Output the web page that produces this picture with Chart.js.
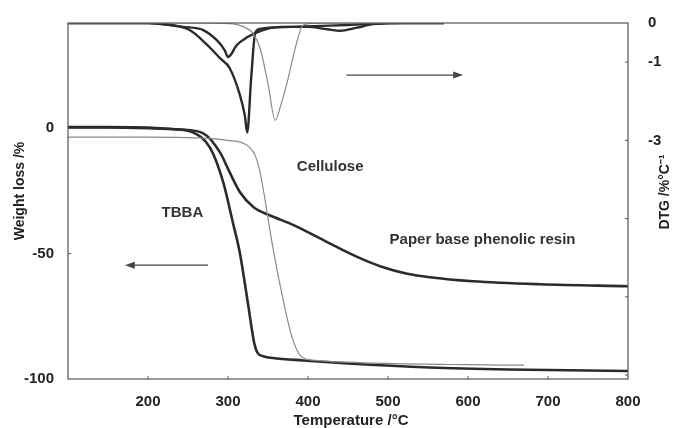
<!DOCTYPE html>
<html>
<head>
<meta charset="utf-8">
<script src="https://cdn.jsdelivr.net/npm/chart.js@4.4.0/dist/chart.umd.min.js"></script>
<style>
  html, body { margin: 0; padding: 0; background: #fff; }
  #wrap { width: 681px; height: 428px; position: relative; }
</style>
</head>
<body>
<div id="wrap"><canvas id="tg_chart" width="681" height="428"></canvas></div>
<script>
// TG curves (weight loss %, left axis)
var tbbaTgT = [100, 150, 200, 230, 256, 278, 294, 306, 315, 325, 333, 337, 345, 356, 394, 450, 552, 650, 800];
var tbbaTg  = [0.5, 0.5, 0.3, -0.3, -1.6, -8, -21.5, -37.5, -50, -70, -86, -89.6, -91, -91.6, -92.6, -93.8, -95.4, -96.2, -96.8];

var celluTgT = [100, 200, 260, 299, 324, 334, 340, 346, 352, 358, 369, 380, 392, 410, 500, 600, 670];
var celluTg  = [-3.5, -3.5, -3.8, -4.8, -6.8, -10.8, -17.5, -27.9, -39.8, -51, -68.5, -83.3, -91.2, -92.6, -93.8, -94.3, -94.5];

var phenTgT = [100, 150, 200, 240, 269, 290, 302, 315, 332, 352, 382, 424, 440, 465, 490, 524, 552, 606, 690, 800];
var phenTg  = [0.3, 0.3, 0, -0.5, -2, -9.6, -17.5, -25.5, -31.5, -34.7, -38.6, -45.4, -48, -51.8, -55, -58, -59.4, -61, -62.2, -63];

// DTG curves (%/°C, right axis)
var tbbaDtgT = [100, 200, 215, 252, 274, 290, 302, 315, 321, 324, 329, 334, 340, 380, 450, 520, 570];
var tbbaDtg  = [0, 0, -0.02, -0.18, -0.56, -0.9, -1.15, -1.85, -2.36, -2.8, -1.4, -0.26, -0.15, -0.1, -0.05, 0, 0];

var celluDtgT = [100, 250, 306, 320, 331, 340, 350, 359, 366, 374, 386, 394, 420, 570];
var celluDtg  = [0, 0, -0.02, -0.1, -0.26, -0.64, -1.55, -2.49, -2.1, -1.51, -0.49, -0.05, 0, 0];

var phenDtgT = [100, 200, 244, 269, 286, 296, 300, 305, 309, 315, 334, 365, 399, 424, 440, 461, 481, 500, 570];
var phenDtg  = [0, 0, -0.1, -0.18, -0.44, -0.7, -0.87, -0.77, -0.62, -0.49, -0.26, -0.1, -0.1, -0.16, -0.2, -0.12, -0.03, 0, 0];

// axis ticks
var xTicks = [100, 200, 300, 400, 500, 600, 700, 800];
var tgTicks = [-100, -50, 0];
var dtgTicks = [0, -1, -3, -5, -7, -9];
var dtgLabels = ['0', '-1', '-3', '', '', ''];

function pts(t, v) {
    var out = [];
    for (var i = 0; i < t.length; i++) {
        out.push({ x: t[i], y: v[i] });
    }
    return out;
}

var thick = '#2b2b2b';
var thin = '#8a8a8a';
var frameCol = '#555';

// frame, small inner tick marks, axis titles, labels and arrows
var decor = {
    id: 'decor',
    afterDraw: function (chart) {
        var ctx = chart.ctx;
        var a = chart.chartArea;
        var sx = chart.scales.x, sy = chart.scales.y, sy2 = chart.scales.y2;
        ctx.save();
        ctx.strokeStyle = frameCol;
        ctx.lineWidth = 1.2;
        ctx.strokeRect(a.left, a.top, a.right - a.left, a.bottom - a.top);

        ctx.lineWidth = 1;
        for (var i = 1; i < xTicks.length - 1; i++) {
            var px = sx.getPixelForValue(xTicks[i]);
            ctx.beginPath(); ctx.moveTo(px, a.bottom); ctx.lineTo(px, a.bottom - 3); ctx.stroke();
        }
        for (var j = 1; j < dtgTicks.length; j++) {
            var py = sy2.getPixelForValue(dtgTicks[j]);
            ctx.beginPath(); ctx.moveTo(a.right, py); ctx.lineTo(a.right - 3, py); ctx.stroke();
        }
        var p50 = sy.getPixelForValue(-50);
        ctx.beginPath(); ctx.moveTo(a.left, p50); ctx.lineTo(a.left + 3, p50); ctx.stroke();

        // axis titles
        ctx.fillStyle = '#222';
        ctx.textAlign = 'center';
        ctx.textBaseline = 'middle';
        ctx.font = 'bold 15px "Liberation Sans", Arial, sans-serif';
        ctx.fillText('Temperature /°C', (a.left + a.right) / 2 + 3, 421);

        ctx.font = 'bold 14px "Liberation Sans", Arial, sans-serif';
        ctx.save();
        ctx.translate(20, 191);
        ctx.rotate(-Math.PI / 2);
        ctx.fillText('Weight loss /%', 0, 0);
        ctx.restore();

        ctx.save();
        ctx.translate(665, 192);
        ctx.rotate(-Math.PI / 2);
        ctx.fillText('DTG /%°C⁻¹', 0, 0);
        ctx.restore();

        // curve labels
        ctx.textAlign = 'left';
        ctx.font = 'bold 15px "Liberation Sans", Arial, sans-serif';
        ctx.fillStyle = '#333';
        ctx.fillText('Cellulose', sx.getPixelForValue(386), sy.getPixelForValue(-15.5));
        ctx.fillText('TBBA', sx.getPixelForValue(217), sy.getPixelForValue(-33.9));
        ctx.fillText('Paper base phenolic resin', sx.getPixelForValue(502), sy.getPixelForValue(-44.6));

        // arrows
        function arrow(x1, y1, x2, y2) {
            var dir = x2 > x1 ? 1 : -1;
            ctx.strokeStyle = '#444';
            ctx.fillStyle = '#444';
            ctx.lineWidth = 1.3;
            ctx.beginPath(); ctx.moveTo(x1, y1); ctx.lineTo(x2 - dir * 6, y2); ctx.stroke();
            ctx.beginPath();
            ctx.moveTo(x2, y2);
            ctx.lineTo(x2 - dir * 10, y2 - 3.5);
            ctx.lineTo(x2 - dir * 10, y2 + 3.5);
            ctx.closePath();
            ctx.fill();
        }
        arrow(sx.getPixelForValue(448), sy2.getPixelForValue(-1.33), sx.getPixelForValue(594), sy2.getPixelForValue(-1.33));
        arrow(sx.getPixelForValue(275), sy.getPixelForValue(-54.6), sx.getPixelForValue(171), sy.getPixelForValue(-54.6));
        ctx.restore();
    }
};

var tickFont = { family: '"Liberation Sans", Arial, sans-serif', size: 15, weight: 'bold' };

function lineSet(label, data, axis, color, width) {
    return {
        label: label,
        data: data,
        yAxisID: axis,
        borderColor: color,
        backgroundColor: 'rgba(0,0,0,0)',
        borderWidth: width,
        pointRadius: 0,
        cubicInterpolationMode: 'monotone',
        fill: false
    };
}

var ctx = document.getElementById('tg_chart').getContext('2d');
var chart = new Chart(ctx, {
    type: 'line',
    data: {
        datasets: [
            lineSet('Cellulose TG', pts(celluTgT, celluTg), 'y', thin, 1.2),
            lineSet('Cellulose DTG', pts(celluDtgT, celluDtg), 'y2', thin, 1.2),
            lineSet('TBBA TG', pts(tbbaTgT, tbbaTg), 'y', thick, 2.6),
            lineSet('Phenolic TG', pts(phenTgT, phenTg), 'y', thick, 2.6),
            lineSet('TBBA DTG', pts(tbbaDtgT, tbbaDtg), 'y2', thick, 2.4),
            lineSet('Phenolic DTG', pts(phenDtgT, phenDtg), 'y2', thick, 2.4)
        ]
    },
    options: {
        responsive: false,
        animation: false,
        layout: { padding: { top: 23, left: 0, right: 0, bottom: 0 } },
        plugins: { legend: { display: false }, tooltip: { enabled: false } },
        scales: {
            x: {
                type: 'linear',
                min: 100, max: 800,
                grid: { display: false },
                border: { display: false },
                afterBuildTicks: function (s) { s.ticks = xTicks.map(function (v) { return { value: v }; }); },
                afterFit: function (s) { s.height = 49; },
                ticks: {
                    font: tickFont, color: '#222', padding: 6, maxRotation: 0,
                    callback: function (v) { return v === 100 ? '' : String(v); }
                }
            },
            y: {
                position: 'left',
                min: -100, max: 42,
                grid: { display: false },
                border: { display: false },
                afterBuildTicks: function (s) { s.ticks = tgTicks.map(function (v) { return { value: v }; }); },
                afterFit: function (s) { s.width = 68; },
                ticks: { font: tickFont, color: '#222', padding: 6 }
            },
            y2: {
                position: 'right',
                min: -9.1, max: 0,
                grid: { display: false },
                border: { display: false },
                afterBuildTicks: function (s) { s.ticks = dtgTicks.map(function (v) { return { value: v }; }); },
                afterFit: function (s) { s.width = 53; },
                ticks: {
                    font: tickFont, color: '#222', padding: 12,
                    callback: function (v) { var k = dtgTicks.indexOf(v); return k >= 0 ? dtgLabels[k] : ''; }
                }
            }
        }
    },
    plugins: [decor]
});
</script>
</body>
</html>
